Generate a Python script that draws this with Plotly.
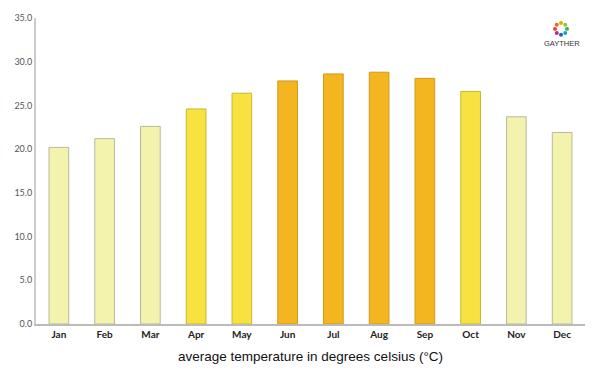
import math
import plotly.graph_objects as go

months = ["Jan", "Feb", "Mar", "Apr", "May", "Jun", "Jul", "Aug", "Sep", "Oct", "Nov", "Dec"]
temps = [20.2, 21.2, 22.6, 24.6, 26.4, 27.8, 28.6, 28.8, 28.1, 26.6, 23.7, 21.9]
fills = ["#f3f3ae", "#f3f3ae", "#f3f3ae", "#f8e242", "#f8e242", "#f3b621",
         "#f3b621", "#f3b621", "#f3b621", "#f8e242", "#f3f3ae", "#f3f3ae"]
edges = ["#b8b8a0", "#b8b8a0", "#b8b8a0", "#c8b830", "#c8b830", "#d09a18",
         "#d09a18", "#d09a18", "#d09a18", "#c8b830", "#b8b8a0", "#b8b8a0"]
y_ticks = [0, 5, 10, 15, 20, 25, 30, 35]

fig = go.Figure(go.Bar(
    x=months, y=temps,
    marker=dict(color=fills, line=dict(color=edges, width=1)),
    hoverinfo="x+y",
))

fig.update_layout(
    width=600, height=375,
    margin=dict(l=36, r=15, t=15, b=51),
    plot_bgcolor="white", paper_bgcolor="white",
    bargap=0.57,
    showlegend=False,
    font=dict(family="Lato, sans-serif", color="#444"),
)
fig.update_xaxes(
    showline=True, linecolor="#bbbbbb", linewidth=1.5,
    ticks="", showgrid=False,
    tickfont=dict(size=10, color="#222", family="Lato, sans-serif", weight="bold"),
)
fig.update_yaxes(
    range=[0, 35], tickvals=y_ticks, tickformat=".1f",
    showline=True, linecolor="#cccccc", linewidth=2,
    showgrid=False, zeroline=False, ticks="",
    tickfont=dict(size=9, color="#555", family="Lato, sans-serif"),
)

fig.add_annotation(
    text="average temperature in degrees celsius (°C)",
    xref="paper", yref="paper", x=0.5, y=-0.075, xanchor="center", yanchor="top",
    showarrow=False, font=dict(size=13.5, color="#111", family="Liberation Sans, Arial, sans-serif"),
)

# logo
fig.add_annotation(
    text="GAYTHER", xref="paper", yref="paper", x=(562 - 36) / 549, y=(324 - 41) / 309,
    xanchor="center", yanchor="middle",
    showarrow=False, font=dict(size=7.5, color="#333", family="Liberation Sans, Arial, sans-serif"),
)
logo_cols = ["#f7a400", "#8cc63f", "#39b54a", "#1c9fd8", "#2e5fa8", "#c0297b", "#e8413c", "#f26522"]
cx, cy, rad = 561, 26, 6
for i, c in enumerate(logo_cols):
    a = math.pi / 2 - i * 2 * math.pi / len(logo_cols)
    px, py = cx + rad * math.cos(a), cy - rad * math.sin(a)
    fig.add_shape(type="circle", xref="paper", yref="paper",
                  x0=(px - 2 - 36) / 549, x1=(px + 2 - 36) / 549,
                  y0=(324 - py - 2) / 309, y1=(324 - py + 2) / 309,
                  fillcolor=c, line=dict(width=0))

fig.write_html("out.html", config={"displayModeBar": False},
               post_script="document.body.style.margin='0';document.body.style.padding='0';")
